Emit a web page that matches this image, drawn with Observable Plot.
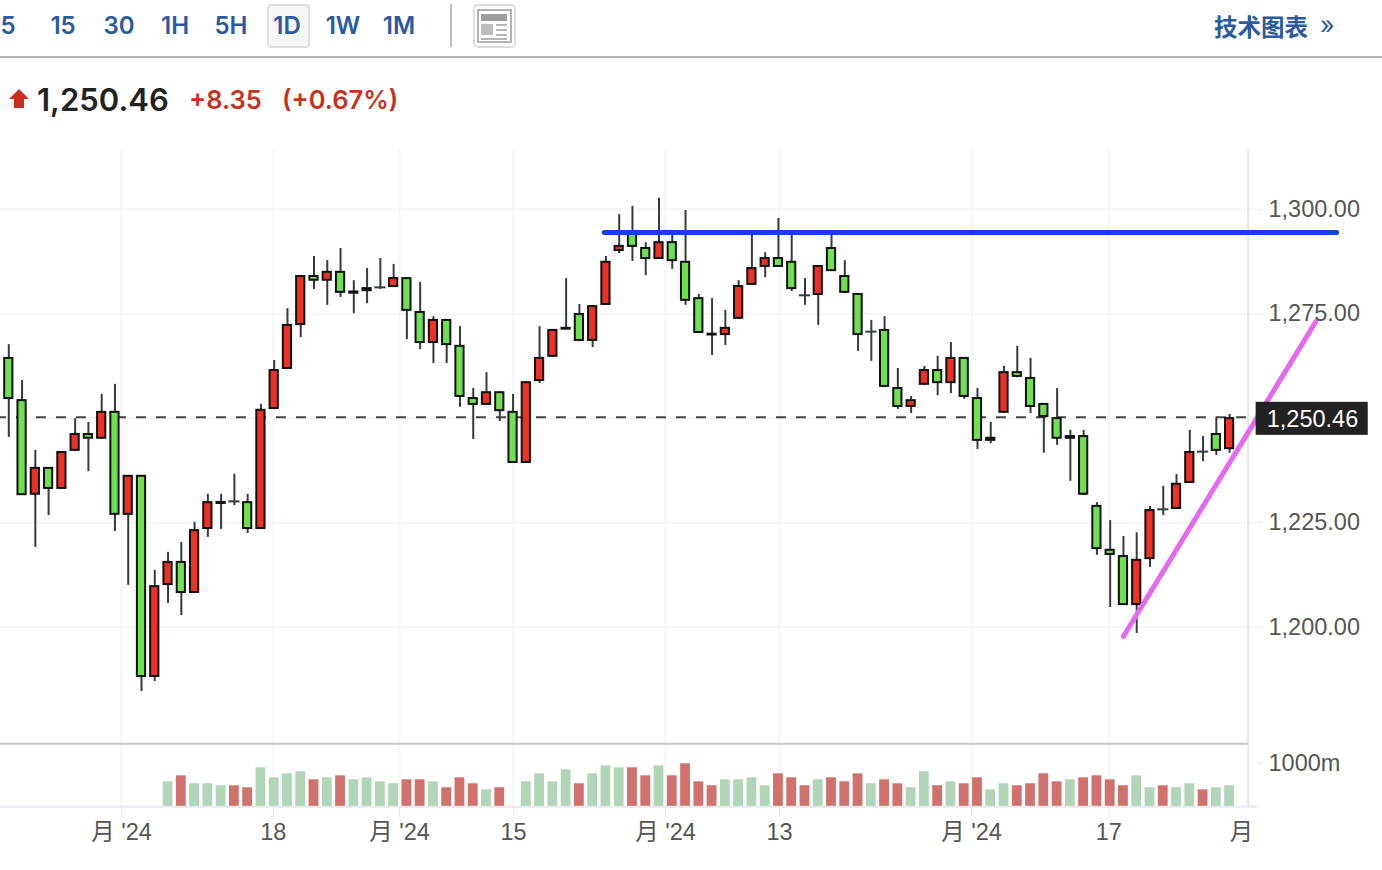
<!DOCTYPE html>
<html><head><meta charset="utf-8">
<script src="https://cdn.jsdelivr.net/npm/d3@7"></script>
<script src="https://cdn.jsdelivr.net/npm/@observablehq/plot@0.6"></script>
<style>
html,body{margin:0;padding:0;background:#fff;width:1382px;height:870px;overflow:hidden}
#root{position:relative;width:1382px;height:870px;font-family:Inter,"Noto Sans CJK SC",sans-serif}
.a{position:absolute;white-space:nowrap}
.tab{position:absolute;top:11px;transform:translateX(-50%);font:600 24px/30px Inter,sans-serif;color:#2c5a9f}
#price,#vol{position:absolute;left:0}
#price{top:0}#vol{top:743px}
svg{overflow:visible}
</style></head><body><div id="root">
<div class="a" style="left:267px;top:4px;width:39px;height:40px;background:#f6f6f6;border:2px solid #e0e0e0;border-radius:4px"></div>
<div class="a" style="left:450px;top:4px;width:2px;height:43px;background:#bdbdbd"></div>
<svg class="a" style="left:473px;top:4px" width="43" height="44">
<rect x="1" y="1" width="41" height="42" rx="4" fill="#fff" stroke="#dcdcdc" stroke-width="2"/>
<rect x="5" y="6" width="33" height="32" fill="#fff" stroke="#9a9a9a" stroke-width="1.5"/>
<rect x="8" y="10" width="26" height="7" fill="#9e9e9e"/>
<rect x="8" y="20" width="12" height="11" fill="#bdbdbd"/>
<path d="M23 21H34M23 26H34M23 31H34M8 35H34" stroke="#b5b5b5" stroke-width="2"/>
</svg>
<div class="a" style="left:0;top:56px;width:1382px;height:2px;background:#b5b5b5"></div>
<div class="a" style="left:1214px;top:10px;font:700 23.5px/32px 'Noto Sans CJK SC',sans-serif;color:#2c5a9f">技术图表</div>
<div class="a" style="left:1320px;top:9px;font:400 25px/32px Inter,sans-serif;color:#2c5a9f">»</div>
<svg class="a" style="left:9px;top:89px" width="21" height="20"><path d="M10 0L20 10H15V19H5V10H0Z" fill="#c92e1c"/></svg>
<div class="a" style="left:37px;top:81px;font:600 31px/38px Inter,sans-serif;color:#222">1,250.46</div>
<div class="a" style="left:189px;top:84px;font:600 25.5px/32px Inter,sans-serif;color:#c7321f">+8.35</div>
<div class="a" style="left:282px;top:84px;font:600 25.5px/32px Inter,sans-serif;color:#c7321f">(+0.67%)</div>
<div id="price"></div><div id="vol"></div>
</div>
<script>
const tabs = ["5","15","30","1H","5H","1D","1W","1M"];
const tabX = [8,63,119,175,231,287,343,399];

const opens = [1264.3,1254.2,1231.8,1238.0,1233.2,1242.3,1246.1,1245.2,1251.4,1227.0,1236.1,1188.2,1210.2,1215.5,1208.3,1223.6,1229.6,1230.1,1229.8,1223.6,1252.3,1261.9,1272.4,1283.9,1283.0,1284.9,1279.9,1280.5,1281.3,1281.5,1283.4,1275.3,1268.1,1273.4,1267.2,1254.7,1253.3,1256.1,1251.4,1239.4,1259.0,1264.8,1271.3,1274.8,1268.6,1277.2,1290.1,1294.4,1290.6,1288.2,1292.0,1287.3,1278.6,1269.9,1270.0,1273.9,1282.0,1286.3,1288.2,1287.3,1279.4,1279.6,1290.6,1283.9,1279.6,1270.7,1271.0,1257.1,1252.8,1258.1,1261.4,1258.5,1264.3,1254.7,1244.7,1251.4,1260.9,1259.5,1253.3,1249.9,1245.2,1245.6,1228.9,1218.4,1216.9,1205.4,1216.4,1228.2,1228.4,1234.6,1242.0,1246.1,1242.7];
const closes = [1254.7,1231.7,1238.0,1233.2,1241.8,1246.1,1245.2,1251.4,1227.0,1236.1,1188.2,1209.7,1215.5,1208.3,1223.1,1229.8,1229.85,1230.1,1223.6,1251.9,1261.4,1272.2,1283.9,1283.0,1284.9,1280.1,1280.2,1281.0,1281.3,1283.4,1275.8,1268.1,1273.4,1267.6,1255.2,1253.3,1256.1,1251.8,1239.4,1258.5,1264.3,1271.0,1271.5,1268.6,1276.7,1287.3,1291.1,1291.1,1288.2,1292.0,1287.7,1278.2,1270.5,1270.1,1271.5,1281.5,1285.8,1288.2,1286.3,1281.0,1279.4,1286.3,1285.3,1280.1,1270.0,1270.7,1257.6,1252.8,1254.2,1261.4,1258.5,1264.3,1255.2,1244.7,1245.2,1260.9,1260.0,1252.8,1250.4,1245.2,1245.6,1231.8,1218.8,1217.4,1205.4,1216.0,1227.9,1228.2,1234.2,1241.8,1242.0,1242.3,1249.9];
const highs = [1267.6,1259.0,1242.3,1238.2,1242.0,1249.9,1249.0,1255.7,1258.1,1236.3,1236.3,1213.6,1217.9,1220.3,1225.1,1231.8,1231.8,1236.6,1231.8,1253.3,1263.8,1276.2,1284.1,1288.7,1287.7,1290.6,1282.9,1285.8,1288.2,1286.8,1283.6,1282.5,1274.3,1273.6,1271.9,1257.1,1260.9,1256.4,1255.7,1258.8,1271.9,1271.2,1283.4,1277.2,1277.0,1288.7,1298.7,1300.7,1292.0,1302.6,1294.4,1299.7,1279.6,1278.6,1275.8,1282.9,1294.4,1289.6,1297.8,1294.4,1283.4,1286.5,1294.2,1287.7,1279.8,1273.4,1274.3,1261.9,1255.2,1262.4,1264.8,1268.1,1264.5,1257.1,1249.0,1262.4,1267.2,1264.3,1253.5,1257.1,1247.1,1247.1,1229.8,1225.5,1221.7,1222.6,1228.9,1233.7,1236.5,1247.1,1245.6,1250.2,1250.9];
const lows = [1245.4,1231.5,1219.1,1226.7,1233.0,1242.0,1237.2,1244.9,1222.9,1210.0,1184.6,1187.0,1205.7,1202.8,1208.1,1221.5,1223.4,1229.1,1222.4,1223.4,1252.1,1261.7,1269.3,1280.8,1277.0,1278.9,1275.0,1277.4,1280.8,1281.3,1268.8,1266.4,1263.1,1263.1,1252.6,1244.9,1253.0,1249.2,1239.2,1239.2,1258.3,1264.5,1271.2,1268.3,1266.9,1277.0,1289.4,1287.5,1284.1,1288.0,1285.6,1277.0,1270.3,1265.0,1267.4,1273.6,1281.7,1283.6,1286.1,1280.3,1277.0,1272.2,1285.1,1279.8,1266.0,1263.6,1257.3,1252.1,1251.1,1257.8,1255.4,1255.9,1254.5,1242.5,1243.9,1251.1,1259.7,1251.1,1241.6,1243.5,1234.9,1231.5,1217.2,1204.7,1205.2,1198.5,1214.3,1226.7,1228.2,1234.4,1239.6,1241.1,1241.6];
const volumes = [null,null,null,null,null,null,null,null,null,null,null,null,573,711,528,528,482,482,436,894,665,757,803,619,665,711,619,665,573,528,619,619,573,436,665,528,390,436,null,573,757,573,849,528,757,940,894,894,711,940,711,986,573,482,619,619,665,482,757,665,482,619,665,573,757,528,619,528,436,803,482,573,528,665,390,528,482,528,757,573,619,665,711,619,482,711,436,482,436,528,390,436,482];
const volumeTones = "------------GRGGGRRGGGGRGRGGGGRRGRRRGR-GGGGRGGGRRGRRRRGGGGRRRGRRRGRRGGRGRRGGRRRRGRRRRGGRGGRGG";

const tickIdx = [8.49,19.93,29.44,38.03,49.49,58.08,72.55,82.9];
const tickLabels = ["月 '24","18","月 '24","15","月 '24","13","月 '24","17"];
const lastLabelIdx = 92.9, lastLabel = "月";
const priceTicks = [1200,1225,1275,1300];
const priceGrid = [1200,1225,1250,1275,1300];
const lastPrice = 1250.2, lastPriceText = "1,250.46";
const blueLine = [{i:44.87,v:1294.4},{i:100.07,v:1294.4}];
const pinkLine = [{i:84.0,v:1197.8},{i:98.5,v:1273.1}];

const RED="#ee3124", GREEN="#6fe04f", INK="#111", WICK="#343c40";
const FONT='"Liberation Sans",Arial,sans-serif';
const axisColor="#e4e8ee";

tabs.forEach((t,i)=>{const e=document.createElement("div");e.className="tab";e.style.left=tabX[i]+"px";e.textContent=t;document.getElementById("root").appendChild(e);});

const rows = opens.map((o,i)=>({i,open:o,close:closes[i],high:highs[i],low:lows[i]}));
const bodies = rows.filter(d=>d.open!==d.close);
const crosses = rows.filter(d=>d.open===d.close);
const xScale = {type:"linear",domain:[0,92],range:[8.3,1229.1]};
const fmt = d3.format(",.2f");

const price = Plot.plot({
  width:1382,height:743,marginLeft:0,marginRight:125,marginTop:150,marginBottom:0,
  style:{fontFamily:FONT,background:"transparent",overflow:"visible"},
  x:{...xScale,axis:null},
  y:{type:"linear",domain:[1200,1300],range:[626.7,208.7],axis:null},
  marks:[
    Plot.ruleX(tickIdx,{stroke:"#f5f6f7",strokeWidth:2}),
    Plot.ruleY(priceGrid,{stroke:"#f5f6f7",strokeWidth:2}),
    Plot.ruleX([93.6],{x:()=>93.4,stroke:axisColor,strokeWidth:2}),
    Plot.ruleY([lastPrice],{x1:-0.93,x2:93.7,stroke:"#444",strokeWidth:2,strokeDasharray:"10,10"}),
    Plot.ruleX(rows,{x:"i",y1:"low",y2:"high",stroke:WICK,strokeWidth:2}),
    Plot.ruleY(crosses,{y:"open",x1:d=>d.i-0.42,x2:d=>d.i+0.42,stroke:WICK,strokeWidth:2}),
    Plot.rect(bodies,{x1:d=>d.i-0.31,x2:d=>d.i+0.31,y1:"open",y2:"close",fill:d=>d.close>d.open?RED:GREEN,stroke:INK,strokeWidth:2}),
    Plot.line(blueLine,{x:"i",y:"v",stroke:"#1740e2",strokeWidth:5}),
    Plot.line(pinkLine,{x:"i",y:"v",stroke:"#e668ee",strokeWidth:5}),
    Plot.rect([0],{x1:94.0,x2:102.45,y1:1245.9,y2:1253.8,fill:"#222"}),
    Plot.text([lastPriceText],{x:94.8,y:1249.6,text:d=>d,fill:"#fff",textAnchor:"start",fontSize:23.5}),
    Plot.axisY({anchor:"right",ticks:priceTicks,tickFormat:fmt,tickSize:5,tickPadding:6,stroke:axisColor,fill:"#555",fontSize:23.5,label:null})
  ]
});
document.getElementById("price").appendChild(price);

const vols = volumes.map((v,i)=>({i,v,t:volumeTones[i]})).filter(d=>d.v!=null);
const vol = Plot.plot({
  width:1382,height:127,marginLeft:0,marginRight:125,marginTop:0,marginBottom:64,
  style:{fontFamily:FONT,background:"transparent",overflow:"visible"},
  x:{...xScale,axis:null},
  y:{type:"linear",domain:[0,1000],range:[63.3,19.7],axis:null},
  marks:[
    Plot.ruleX(tickIdx,{stroke:"#f5f6f7",strokeWidth:2}),
    Plot.rect(vols,{x1:d=>d.i-0.37,x2:d=>d.i+0.37,y1:0,y2:"v",fill:d=>d.t==="R"?"#d0716d":"#b0d5b7"}),
    Plot.ruleY([0],{stroke:axisColor,strokeWidth:2}),
    Plot.ruleX([0],{x:()=>93.4,stroke:axisColor,strokeWidth:2}),
    Plot.ruleY([1500],{x1:-1,x2:93.4,y:()=>1445,stroke:"#c9c9c9",strokeWidth:2}),
    Plot.axisY({anchor:"right",ticks:[1000],tickFormat:d=>d+"m",tickSize:5,tickPadding:6,stroke:axisColor,fill:"#555",fontSize:23.5,label:null}),
    Plot.axisX({anchor:"bottom",ticks:tickIdx,tickFormat:(d,i)=>tickLabels[i],tickSize:11,tickPadding:6,stroke:axisColor,fill:"#555",fontSize:23.5,fontFamily:'"Liberation Sans","Noto Sans CJK SC",sans-serif',label:null}),
    Plot.text([lastLabel],{x:lastLabelIdx,y:-590,text:d=>d,fill:"#555",fontSize:23.5,fontFamily:'"Noto Sans CJK SC",sans-serif'})
  ]
});
document.getElementById("vol").appendChild(vol);
</script></body></html>
